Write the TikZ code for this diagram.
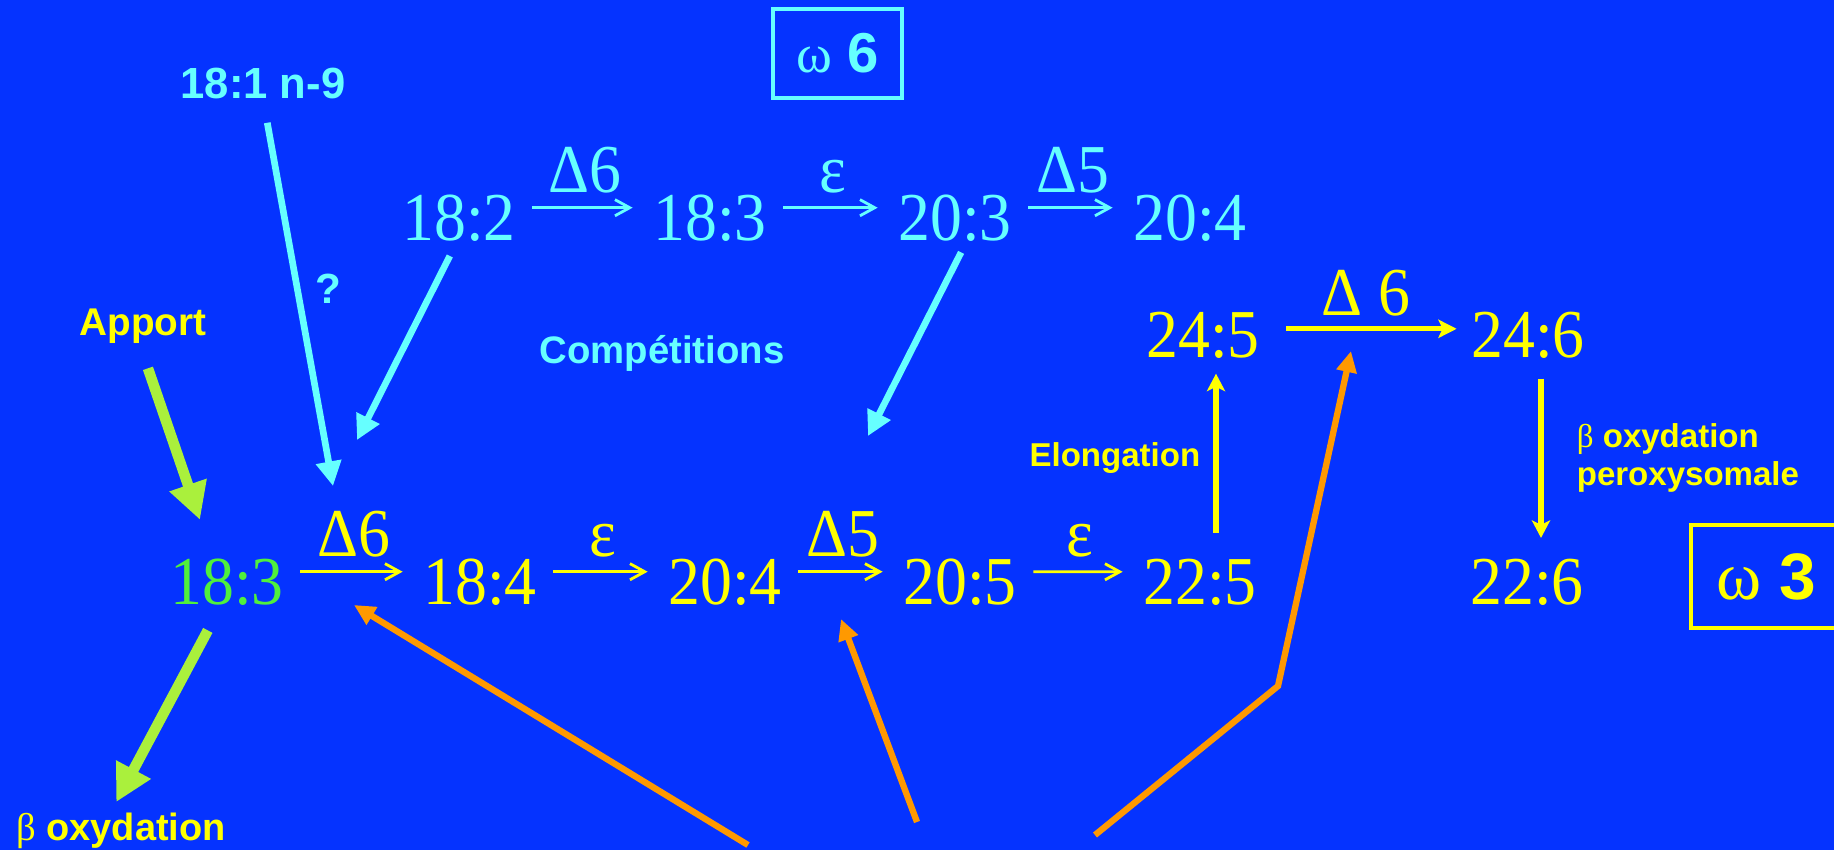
\documentclass[tikz,border=0pt]{standalone}
\usepackage{fontspec}
\setmainfont{Liberation Serif}
\setsansfont{Liberation Sans}
\newfontfamily\numfont[FakeStretch=0.93]{Liberation Serif}
\usetikzlibrary{arrows.meta, positioning, calc}
\usepackage{xcolor}
\definecolor{slide}{HTML}{0533FF}
\definecolor{wsix}{HTML}{66FFFF}
\definecolor{wthree}{HTML}{FFFF00}
\definecolor{alagreen}{HTML}{50F03C}
\definecolor{limearrow}{HTML}{AAF03C}
\definecolor{enzorange}{HTML}{FF9900}
\newcommand{\acidsize}{\fontsize{19.5}{22}\selectfont}

\begin{document}
\begin{tikzpicture}[x=0.1mm, y=-0.1mm,
    fa/.style = {inner sep=0pt, anchor=base, font=\numfont\acidsize},
    remark/.style = {inner sep=0pt, font=\sffamily\bfseries\fontsize{#1}{10.8}\selectfont},
    enz/.style = {inner sep=0pt, font=\numfont\acidsize, midway, above=1.3mm},
    rxn/.style = {-{Straight Barb[length=4.2pt,width=4.6pt]}, line width=0.8pt, shorten <=1.6mm, shorten >=2mm},
    bigrxn/.style = {-{Stealth[length=5.2pt,width=5.2pt,inset=1.2pt]}, line width=1.5pt, wthree, shorten <=2.6mm, shorten >=1.4mm},
    comp/.style = {-{Triangle[length=7pt,width=7pt]}, line width=1.9pt, wsix},
    intake/.style = {-{Triangle[length=10.5pt,width=10.5pt]}, line width=3pt, limearrow},
    enzact/.style = {-{Triangle[length=6pt,width=5.6pt]}, line width=1.8pt, enzorange},
    chain/.style = {-{Stealth[length=5pt,width=5.2pt,inset=1.3pt]}, line width=1.6pt, wthree},
    family/.style = {draw, line width=0.9pt, inner sep=0pt}
]
\fill[slide] (0,0) rectangle (1834,850);
\clip (0,0) rectangle (1834,850);

% omega 6 row
\node[fa, text=wsix] (l182) at (459,240) {18:2};
\node[fa, text=wsix] (l183) at (710,240) {18:3};
\node[fa, text=wsix] (l203) at (955,240) {20:3};
\node[fa, text=wsix] (l204) at (1190,240) {20:4};

% omega 3 row
\node[fa, text=alagreen] (a183) at (227,604) {18:3};
\node[fa, text=wthree] (a184) at (480,604) {18:4};
\node[fa, text=wthree] (a204) at (725,604) {20:4};
\node[fa, text=wthree] (a205) at (960,604) {20:5};
\node[fa, text=wthree] (a225) at (1200,604) {22:5};
\node[fa, text=wthree] (a226) at (1527,604) {22:6};
\node[fa, text=wthree] (a245) at (1203,357) {24:5};
\node[fa, text=wthree] (a246) at (1528,357) {24:6};

% families
\node[family, wsix, minimum width=12.9mm, minimum height=8.9mm] (w6) at (837.5,53.5)
  {{\fontsize{15.5}{16}\selectfont ω}\hspace{4.2pt}{\sffamily\bfseries\fontsize{16}{16}\selectfont 6}};
\node[family, wthree, minimum width=15mm, minimum height=10.3mm] (w3) at (1766,576.5)
  {{\fontsize{19.5}{20}\selectfont ω}\hspace{5pt}{\sffamily\bfseries\fontsize{18.7}{19}\selectfont 3}};

% texts
\node[remark=12.4, text=wsix, anchor=base] (n9) at (263,98) {18:1 n-9};
\node[remark=11, text=wthree, anchor=base] (apport) at (143,335) {Apport};
\node[remark=10.9, text=wsix, anchor=base] (compet) at (662,363) {Compétitions};
\node[remark=10.8, text=wthree, anchor=base] (betaox) at (121,840)
  {{\rmfamily\mdseries\fontsize{11}{11}\selectfont β} oxydation};

% free ends
\coordinate (d6in) at (333,486);
\coordinate (d6six) at (357,440);
\coordinate (d5six) at (868,436);
\coordinate (o1) at (748,845);
\coordinate (t1) at (354,605);
\coordinate (o2) at (917,822);
\coordinate (t2) at (841,619);
\coordinate (o3) at (1095,835);
\coordinate (k3) at (1278,686);
\coordinate (t3) at (1351,351);

% omega 6 steps
\draw[rxn, wsix] ([yshift=1mm]l182.east) -- ([yshift=1mm]l183.west) node[enz] {Δ6};
\draw[rxn, wsix] ([yshift=1mm]l183.east) -- ([yshift=1mm]l203.west) node[enz] {ε};
\draw[rxn, wsix] ([yshift=1mm]l203.east) -- ([yshift=1mm]l204.west) node[enz] {Δ5};

% omega 3 steps
\draw[rxn, wthree] ([yshift=1mm]a183.east) -- ([yshift=1mm]a184.west) node[enz] {Δ6};
\draw[rxn, wthree] ([yshift=1mm]a184.east) -- ([yshift=1mm]a204.west) node[enz] {ε};
\draw[rxn, wthree] ([yshift=1mm]a204.east) -- ([yshift=1mm]a205.west) node[enz] {Δ5};
\draw[rxn, wthree] ([yshift=1mm]a205.east) -- ([yshift=1mm]a225.west) node[enz] {ε};
\draw[bigrxn] ([yshift=0.6mm]a245.east) -- ([yshift=0.6mm]a246.west) node[enz, above=1mm] {Δ 6};

\draw[chain, shorten <=2.5mm, shorten >=1.5mm] ($(a225.north)+(16,0)$) -- ($(a225.north |- a245.south)+(16,0)$)
  node[midway, left=1.3mm, remark=9.4] {Elongation};
\draw[chain, shorten <=2mm, shorten >=2mm] ($(a246.south)+(13,0)$) -- ($(a246.south |- a226.north)+(13,0)$)
  node[midway, right=3.3mm, remark=9.4, align=left] {{\rmfamily\mdseries β} oxydation\\peroxysomale};

% competitions
\draw[comp, shorten <=2.4mm] (n9.south) -- (d6in) node[pos=0.49, right=1.5mm, remark=12] {?};
\draw[comp, shorten <=1.6mm] ([xshift=-0.2mm]l182.south) -- (d6six);
\draw[comp, shorten <=1.2mm] ([xshift=1.15mm]l203.south) -- (d5six);

% intake
\draw[intake, shorten <=2.6mm, shorten >=4mm] ([xshift=-0.35mm]apport.south) -- ([xshift=-1.4mm]a183.north);
\draw[intake, shorten <=2.8mm, shorten >=1.1mm] ([xshift=-0.6mm]a183.south) -- ([xshift=-1mm]betaox.north);

% enzymes
\draw[enzact] (o1) -- (t1);
\draw[enzact] (o2) -- (t2);
\draw[enzact] (o3) -- (k3) -- (t3);

\end{tikzpicture}
\end{document}
